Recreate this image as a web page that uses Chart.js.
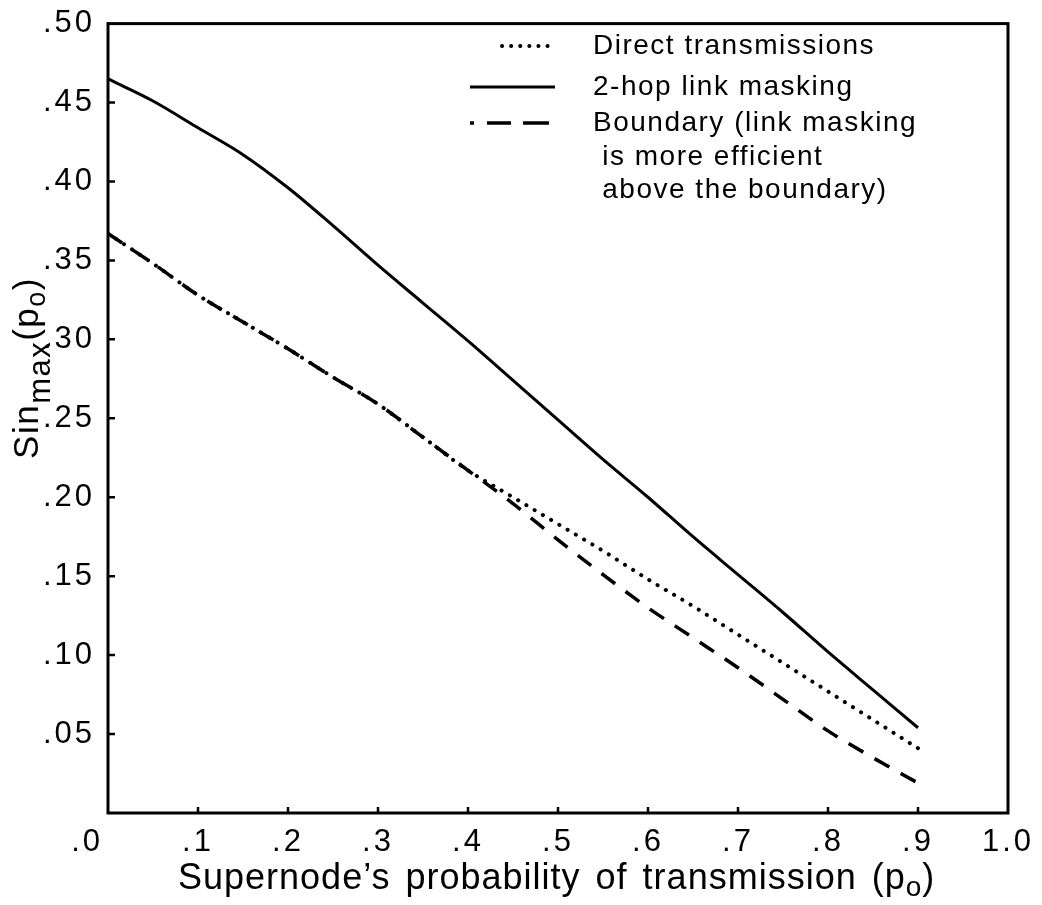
<!DOCTYPE html>
<html>
<head>
<meta charset="utf-8">
<script src="https://cdn.jsdelivr.net/npm/chart.js@4.4.1/dist/chart.umd.min.js"></script>
<style>
    html, body { margin: 0; padding: 0; background: #fff; }
    canvas { display: block; }
</style>
</head>
<body>
<canvas id="chart" width="1042" height="905"></canvas>
<script>
// values, x = p0
const pValues = [0, .05, .10, .15, .20, .25, .30, .35, .40, .45, .50, .55, .60, .65, .70, .75, .80, .85, .90];
const twoHopValues = [.465, .451, .434, .417, .396, .372, .347, .323, .299, .274, .249, .224, .200, .175, .151, .127, .102, .078, .054];
const directValues = [.367, .348, .328, .311, .294, .276, .259, .238, .217, .200, .183, .166, .148, .131, .113, .095, .077, .059, .041];
const boundaryValues = [.367, .348, .328, .311, .294, .276, .259, .238, .217, .196, .173, .151, .130, .111, .092, .072, .052, .035, .019];

const legendLabels = [
    ['Direct transmissions'],
    ['2-hop link masking'],
    ['Boundary (link masking', ' is more efficient', ' above the boundary)']
];
const xTitleParts = ['Supernode\u2019s probability of transmission (p', 'o', ')'];
const yTitleParts = ['Sin', 'max', '(p', 'o', ')'];
const originLabel = '.0';

const INK = '#000';
const FONT = '"Liberation Sans", Arial, Helvetica, sans-serif';
const TICK_PAD_X = 3;

function toPoints(values) {
    return values.map((v, i) => ({ x: pValues[i], y: v }));
}

function drawRuns(ctx, runs, x, y) {
    let cx = x;
    runs.forEach(r => {
        ctx.font = r.size + 'px ' + FONT;
        ctx.fillText(r.text, cx, y + r.shift);
        cx += ctx.measureText(r.text).width;
    });
}

function runsWidth(ctx, runs) {
    let w = 0;
    runs.forEach(r => {
        ctx.font = r.size + 'px ' + FONT;
        w += ctx.measureText(r.text).width;
    });
    return w;
}

const figurePlugin = {
    id: 'figure',
    beforeDraw(chart) {
        // the scanned lettering is widely tracked
        chart.ctx.letterSpacing = '3px';
    },
    afterDraw(chart) {
        const { ctx, chartArea: a, scales } = chart;
        ctx.save();
        ctx.strokeStyle = INK;
        ctx.fillStyle = INK;

        // box round the plot
        ctx.lineWidth = 3;
        ctx.strokeRect(a.left, a.top, a.right - a.left, a.bottom - a.top);

        // inward tick marks
        ctx.lineWidth = 2.5;
        ctx.beginPath();
        scales.x.ticks.forEach(t => {
            if (t.value <= 0 || t.value >= 1) return;
            const px = scales.x.getPixelForValue(t.value);
            ctx.moveTo(px, a.bottom);
            ctx.lineTo(px, a.bottom - 6);
        });
        scales.y.ticks.forEach(t => {
            if (t.value <= 0 || t.value >= 0.5) return;
            const py = scales.y.getPixelForValue(t.value);
            ctx.moveTo(a.left, py);
            ctx.lineTo(a.left + 7, py);
        });
        ctx.stroke();

        // shared origin label sits left of the corner
        ctx.letterSpacing = '3px';
        ctx.font = '31px ' + FONT;
        ctx.textAlign = 'right';
        ctx.textBaseline = 'middle';
        ctx.fillText(originLabel, scales.x.getPixelForValue(0) - 5, a.bottom + TICK_PAD_X + 26);

        // axis titles with subscripts
        ctx.textBaseline = 'alphabetic';
        ctx.textAlign = 'left';
        ctx.letterSpacing = '1px';
        ctx.wordSpacing = '4px';
        const xRuns = [
            { text: xTitleParts[0], size: 36, shift: 0 },
            { text: xTitleParts[1], size: 28, shift: 7 },
            { text: xTitleParts[2], size: 36, shift: 0 }
        ];
        drawRuns(ctx, xRuns, 178, 889);
        ctx.wordSpacing = '0px';

        ctx.letterSpacing = '1.5px';
        const yRuns = [
            { text: yTitleParts[0], size: 35, shift: 0 },
            { text: yTitleParts[1], size: 31, shift: 12 },
            { text: yTitleParts[2], size: 35, shift: 0 },
            { text: yTitleParts[3], size: 27, shift: 7 },
            { text: yTitleParts[4], size: 35, shift: 0 }
        ];
        const yw = runsWidth(ctx, yRuns);
        ctx.save();
        ctx.translate(38, 277 + yw);
        ctx.rotate(-Math.PI / 2);
        drawRuns(ctx, yRuns, 0, 0);
        ctx.restore();

        // legend in the upper right
        const rowY = [46, 87, 123, 157, 190];
        let row = 0;
        chart.data.datasets.forEach((ds, i) => {
            const y = rowY[row];
            ctx.save();
            ctx.lineWidth = ds.borderWidth;
            ctx.lineCap = ds.borderCapStyle || 'butt';
            ctx.setLineDash(ds.legendDash || []);
            ctx.beginPath();
            ctx.moveTo(ds.legendStart, y);
            ctx.lineTo(555, y);
            ctx.stroke();
            ctx.restore();
            ctx.letterSpacing = '1.5px';
            ctx.font = '28px ' + FONT;
            ctx.textBaseline = 'middle';
            legendLabels[i].forEach(line => {
                ctx.fillText(line, 593, rowY[row]);
                row++;
            });
        });
        ctx.restore();
    }
};

new Chart(document.getElementById('chart'), {
    type: 'line',
    data: {
        datasets: [
            {
                label: legendLabels[0][0],
                data: toPoints(directValues),
                borderColor: INK,
                borderWidth: 4,
                borderDash: [0.1, 9.5],
                borderCapStyle: 'round',
                legendDash: [0.1, 9],
                legendStart: 502,
                pointRadius: 0,
                cubicInterpolationMode: 'monotone'
            },
            {
                label: legendLabels[1][0],
                data: toPoints(twoHopValues),
                borderColor: INK,
                borderWidth: 3,
                legendStart: 470,
                pointRadius: 0,
                cubicInterpolationMode: 'monotone'
            },
            {
                label: legendLabels[2][0],
                data: toPoints(boundaryValues),
                borderColor: INK,
                borderWidth: 3.5,
                borderDash: [17, 13],
                legendDash: [4, 13, 24, 12, 26, 100],
                legendStart: 470,
                pointRadius: 0,
                cubicInterpolationMode: 'monotone'
            }
        ]
    },
    options: {
        responsive: false,
        devicePixelRatio: 1,
        animation: false,
        layout: { padding: { top: 23, right: 34, left: 0, bottom: 0 } },
        plugins: {
            legend: { display: false },
            tooltip: { enabled: false }
        },
        scales: {
            x: {
                type: 'linear',
                min: 0,
                max: 1,
                grid: { display: false },
                border: { display: false },
                afterFit: s => { s.height = 92; },
                ticks: {
                    stepSize: 0.1,
                    padding: TICK_PAD_X,
                    color: INK,
                    font: { size: 31, family: FONT },
                    callback: v => {
                        if (v < 1e-9) return '';
                        return Math.abs(v - 1) < 1e-9 ? '1.0' : v.toFixed(1).replace(/^0/, '');
                    }
                }
            },
            y: {
                type: 'linear',
                min: 0,
                max: 0.5,
                grid: { display: false },
                border: { display: false },
                afterFit: s => { s.width = 108; },
                ticks: {
                    stepSize: 0.05,
                    padding: 5,
                    color: INK,
                    font: { size: 31, family: FONT },
                    callback: v => (v < 1e-9 ? '' : v.toFixed(2).replace(/^0/, ''))
                }
            }
        }
    },
    plugins: [figurePlugin]
});
</script>
</body>
</html>
